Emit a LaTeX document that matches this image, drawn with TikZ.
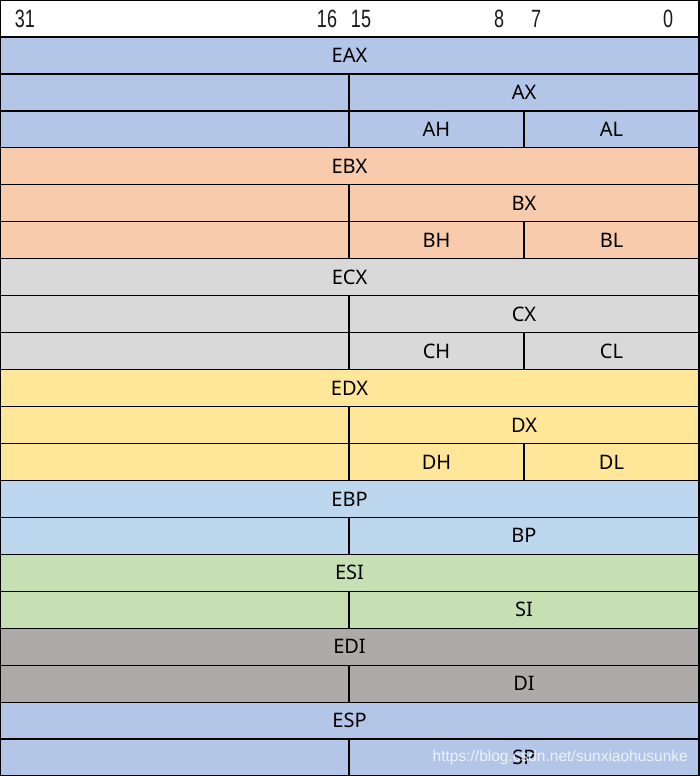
\documentclass[tikz,border=0pt]{standalone}
\usepackage{fontspec}
\setmainfont{Noto Sans}
\newfontfamily\numfont[FakeStretch=0.72]{Liberation Sans}
\newfontfamily\wmfont{Liberation Sans}
\definecolor{cblue}{HTML}{B4C6E7}
\definecolor{corange}{HTML}{F8CBAD}
\definecolor{cgray}{HTML}{D9D9D9}
\definecolor{cyellow}{HTML}{FFE699}
\definecolor{clblue}{HTML}{BDD7EE}
\definecolor{cgreen}{HTML}{C6E0B4}
\definecolor{cdgray}{HTML}{AEAAAA}
\tikzset{
  cell/.style={draw=black, line width=1.2pt, rectangle, inner sep=0pt, outer sep=0pt,
    minimum height=36.95pt, font=\fontsize{20}{23}\selectfont, text=black},
  hdr/.style={inner sep=0pt, font=\numfont\fontsize{25}{28}\selectfont, text=black!90},
}
\newcommand{\fullrow}[4]{%
  \node[cell, fill=#2, minimum width=699pt] (#4) at (349.5, {37+(#1-0.5)*36.95}) {#3};}
\newcommand{\halfrow}[4]{%
  \node[cell, fill=#2, minimum width=349pt] (#4a) at (174.5, {37+(#1-0.5)*36.95}) {};
  \node[cell, fill=#2, minimum width=350pt] (#4) at (524, {37+(#1-0.5)*36.95}) {#3};}
\newcommand{\quarterrow}[5]{%
  \node[cell, fill=#2, minimum width=349pt] (#5a) at (174.5, {37+(#1-0.5)*36.95}) {};
  \node[cell, fill=#2, minimum width=175pt] (#5h) at (436.5, {37+(#1-0.5)*36.95}) {#3};
  \node[cell, fill=#2, minimum width=175pt] (#5l) at (611.5, {37+(#1-0.5)*36.95}) {#4};}
\begin{document}
\begin{tikzpicture}[x=1pt, y=-1pt]
\useasboundingbox (0,0) rectangle (699,776);
\node[cell, fill=white, minimum width=699pt, minimum height=37pt] (header) at (349.5,18.5) {};
\node[hdr] (h31) at (25,19) {31};
\node[hdr] (h16) at (327,19) {16};
\node[hdr] (h15) at (361,19) {15};
\node[hdr] (h8) at (499,19) {8};
\node[hdr] (h7) at (536,19) {7};
\node[hdr] (h0) at (668,19) {0};
\fullrow{1}{cblue}{EAX}{eax}
\halfrow{2}{cblue}{AX}{ax}
\quarterrow{3}{cblue}{AH}{AL}{a}
\fullrow{4}{corange}{EBX}{ebx}
\halfrow{5}{corange}{BX}{bx}
\quarterrow{6}{corange}{BH}{BL}{b}
\fullrow{7}{cgray}{ECX}{ecx}
\halfrow{8}{cgray}{CX}{cx}
\quarterrow{9}{cgray}{CH}{CL}{c}
\fullrow{10}{cyellow}{EDX}{edx}
\halfrow{11}{cyellow}{DX}{dx}
\quarterrow{12}{cyellow}{DH}{DL}{d}
\fullrow{13}{clblue}{EBP}{ebp}
\halfrow{14}{clblue}{BP}{bp}
\fullrow{15}{cgreen}{ESI}{esi}
\halfrow{16}{cgreen}{SI}{si}
\fullrow{17}{cdgray}{EDI}{edi}
\halfrow{18}{cdgray}{DI}{di}
\fullrow{19}{cblue}{ESP}{esp}
\halfrow{20}{cblue}{SP}{sp}
\node[inner sep=0pt, text=white, text opacity=0.75, font=\wmfont\fontsize{15.5}{17}\selectfont, anchor=east] (wm) at (688,757) {https://blog.csdn.net/sunxiaohusunke};
\end{tikzpicture}
\end{document}
